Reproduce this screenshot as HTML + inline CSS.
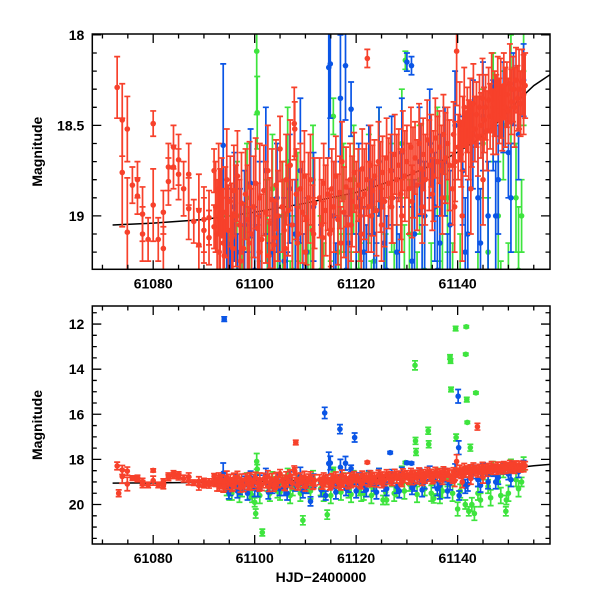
<!DOCTYPE html>
<html><head><meta charset="utf-8">
<style>
html,body{margin:0;padding:0;background:#fff;width:600px;height:600px;overflow:hidden;}
svg{display:block;}
text{font-family:"Liberation Sans",sans-serif;font-weight:bold;fill:#000;}
</style></head>
<body>
<svg id="chart" width="600" height="600" viewBox="0 0 600 600" xmlns="http://www.w3.org/2000/svg"></svg>
<script>
// ---- data ----
const redT=[61072.9,61073.9,61073.9,61074.9,61074.9,61075.9,61076.9,61076.9,61077.9,61077.9,61079,61080,61080,61081,61082,61082,61083,61083,61084,61084,61085,61085,61086,61087,61087,61088,61089,61089,61090,61090,61091,61091,61092,61092,61073.2,
61092.3,61092.6,61092.9,61093.2,61093.5,61093.8,61094.2,61094.5,61094.8,61095.2,61095.5,61095.9,61096.3,61096.6,61097.0,61097.4,61097.8,61098.2,61098.6,61099.0,61099.4,61099.8,61100.2,61100.6,61101.0,61101.4,61101.8,61102.2,61102.6,61103.0,61103.4,61103.8,61104.2,61104.6,61105.0,61105.4,61105.8,61106.2,61106.6,61107.0,61107.4,61107.8,61107.9,61108.2,61108.6,61109.0,61109.4,61109.8,61110.2,61110.6,61111.0,61111.4,61111.8,61108.1,
61112.8,61113.2,61113.6,61114.0,61114.4,61114.8,61115.2,61115.6,61116.0,61116.4,61116.8,61117.2,61117.6,61118.0,61118.4,61118.8,61119.2,61119.6,61120.0,61120.4,61120.8,61121.2,61121.6,61122.0,61122.2,61122.4,61122.8,61123.2,61123.6,61124.0,61124.4,61124.8,61125.2,61125.6,61126.0,61126.4,61126.8,61127.2,61127.6,61128.0,61128.4,61128.8,61129.2,61129.6,61130.0,61130.4,61130.8,61131.2,61131.6,61132.0,61132.4,61132.8,61133.2,61133.6,61134.0,61134.4,61134.8,61135.2,61135.6,61136.0,61136.4,61136.8,61137.2,61137.6,61138.0,61138.4,
61139.2,61139.5,61139.8,61140.1,61140.4,61140.7,61141.0,61141.3,61141.6,61141.9,61142.2,61142.5,61142.8,61143.1,61143.4,61143.7,61143.9,61144.0,61144.3,61144.6,61144.9,61145.2,61145.5,61145.8,61146.1,61146.4,61146.7,61147.0,61147.3,61147.6,61147.9,61148.2,61148.5,61148.8,61149.1,61149.4,61149.7,61150.0,61150.3,61150.6,61150.9,61151.2,61151.5,61151.8,61152.1,61152.4,61152.7,61153.0,61153.3,61139.4,61140.9,61142.6,61145.0,
61093.0,61094.0,61095.7,61097.2,61098.9,61100.9,61102.8,61104.0,61106.0,61108.4,61110.0,61111.6,61113.4,61115.0,61117.0,61119.0,61121.0,61123.0,61125.0,61127.0,61129.0,61131.0,61133.0,61135.0,61137.0,61139.0];
const redM=[18.29,18.47,18.76,18.52,19.09,18.83,18.80,18.89,18.99,19.10,19.13,18.49,18.94,19.13,18.98,19.18,18.73,18.81,18.62,18.73,18.69,18.77,18.85,18.77,18.96,19.03,18.97,19.16,19.02,19.08,19.01,19.12,18.75,19.06,19.50,
18.95,19.10,18.85,19.02,18.90,19.15,18.98,18.80,19.08,18.92,19.12,18.86,19.00,18.78,19.05,18.93,19.18,18.88,19.02,18.84,19.10,18.95,18.82,19.07,18.90,19.13,18.86,18.98,18.75,19.04,18.91,19.16,18.83,19.00,18.63,18.95,19.08,18.80,18.97,18.72,19.05,18.49,18.52,18.88,19.10,18.85,18.98,18.78,19.02,18.90,18.80,19.08,18.93,17.25,
18.90,19.05,18.82,18.97,18.88,19.10,18.85,18.95,18.78,19.02,18.87,18.70,18.98,18.84,19.05,18.80,18.92,18.76,18.95,18.83,19.00,18.74,18.88,18.80,18.13,18.95,18.72,18.86,18.78,18.97,18.70,18.84,18.76,18.92,18.68,18.82,18.75,18.90,18.66,18.80,18.72,18.88,18.64,18.78,18.70,18.85,18.62,18.76,18.68,18.83,18.60,18.74,18.66,18.80,18.58,18.72,18.64,18.78,18.57,18.70,18.62,18.75,18.55,18.68,18.60,18.72,
18.55,18.70,18.09,18.62,18.48,18.66,18.52,18.40,18.60,18.47,18.58,18.42,18.55,18.38,18.52,18.44,16.55,18.56,18.40,18.50,18.35,18.47,18.40,18.53,18.36,18.45,18.32,18.48,18.38,18.44,18.30,18.42,18.35,18.46,18.28,18.40,18.33,18.42,18.27,18.37,18.30,18.40,18.25,18.35,18.30,18.38,18.26,18.33,18.28,18.95,19.00,18.85,18.80,
19.20,19.22,19.18,19.25,19.15,19.20,19.22,19.12,19.18,19.15,19.20,19.10,19.12,19.08,19.15,19.05,19.10,19.00,19.05,18.95,19.00,18.92,18.95,18.88,18.90,18.85];
const redE=[0.17,0.2,0.3,0.18,0.3,0.1,0.1,0.1,0.15,0.15,0.12,0.07,0.2,0.12,0.12,0.12,0.13,0.13,0.12,0.12,0.14,0.14,0.15,0.17,0.17,0.12,0.2,0.2,0.18,0.18,0.15,0.15,0.12,0.12,0.15,
0.25,0.3,0.25,0.28,0.22,0.3,0.25,0.28,0.25,0.25,0.3,0.25,0.28,0.25,0.25,0.28,0.25,0.25,0.3,0.25,0.25,0.28,0.25,0.25,0.3,0.25,0.25,0.28,0.25,0.25,0.28,0.25,0.25,0.25,0.18,0.25,0.28,0.25,0.25,0.25,0.25,0.2,0.15,0.25,0.25,0.25,0.28,0.25,0.25,0.25,0.25,0.25,0.25,0.1,
0.22,0.25,0.22,0.25,0.2,0.25,0.22,0.25,0.22,0.25,0.2,0.22,0.25,0.22,0.25,0.2,0.25,0.22,0.25,0.2,0.25,0.22,0.25,0.2,0.05,0.25,0.22,0.25,0.2,0.25,0.22,0.25,0.2,0.25,0.22,0.25,0.2,0.25,0.22,0.25,0.2,0.25,0.22,0.25,0.2,0.25,0.22,0.25,0.2,0.25,0.22,0.25,0.2,0.25,0.22,0.25,0.2,0.25,0.22,0.25,0.2,0.25,0.22,0.25,0.2,0.25,
0.18,0.22,0.3,0.18,0.22,0.18,0.18,0.22,0.18,0.18,0.22,0.18,0.18,0.22,0.18,0.18,0.15,0.22,0.18,0.18,0.22,0.18,0.18,0.22,0.18,0.18,0.22,0.18,0.18,0.22,0.18,0.18,0.22,0.18,0.18,0.22,0.18,0.18,0.22,0.18,0.18,0.22,0.18,0.18,0.22,0.18,0.18,0.22,0.18,0.25,0.25,0.25,0.25,
0.2,0.2,0.2,0.2,0.2,0.2,0.2,0.2,0.2,0.2,0.2,0.2,0.2,0.2,0.2,0.2,0.2,0.2,0.2,0.2,0.2,0.2,0.2,0.2,0.2,0.2];

const blueT=[61093.8,61094.0,61094.5,61095.2,61096.0,61097.1,61098.0,61099.2,61100.0,61101.0,61102.2,61103.5,61104.4,61105.8,61106.9,61108.0,61109.0,61110.2,61111.0,61111.6,61113.8,61114.0,61114.6,61114.9,61115.6,61116.8,61116.9,61117.9,61118.5,61119.0,61119.7,61120.5,61121.5,61122.5,61123.5,61124.5,61125.5,61126.7,61127.0,61128.0,61129.0,61130.0,61130.9,61131.5,61132.5,61133.5,61134.5,61135.5,61136.5,61137.5,61138.5,61139.5,61140.1,61140.2,61140.3,61141.0,61142.0,61143.0,61144.0,61145.0,61146.0,61147.0,61148.0,61149.0,61150.0,61151.0,61152.0,61153.0,
61094.9,61096.6,61098.6,61100.6,61102.7,61104.9,61106.4,61109.5,61113.1,61116.0,61118.0,61120.0,61122.0,61124.0,61126.0,61128.5,61131.0,61133.0,61136.0,61138.0,61141.5,61144.5,61147.5,61150.5];
const blueM=[18.61,11.78,19.15,19.25,18.95,19.2,19.05,18.82,19.3,19.0,18.75,19.2,18.9,19.25,18.85,19.1,18.75,19.2,19.86,18.95,15.94,19.6,18.18,18.16,19.0,16.66,18.35,18.17,19.15,18.41,17.03,18.9,19.2,18.8,19.1,18.7,19.15,17.70,18.75,19.2,18.65,18.15,18.17,19.1,18.7,19.0,18.6,18.95,19.15,18.7,19.05,18.5,15.2,17.48,19.6,18.75,19.1,18.55,18.9,18.45,19.0,18.5,18.8,18.4,18.65,18.3,18.55,18.25,
19.45,19.4,19.5,19.35,19.45,19.3,19.5,19.4,19.35,19.45,19.3,19.4,19.35,19.45,19.3,19.4,19.25,19.35,19.3,19.4,19.2,19.15,19.0,18.9];
const blueE=[0.45,0.1,0.3,0.35,0.3,0.35,0.3,0.3,0.35,0.3,0.35,0.3,0.3,0.35,0.3,0.3,0.4,0.3,0.2,0.3,0.25,0.2,0.5,0.3,0.3,0.2,0.35,0.3,0.3,0.15,0.2,0.3,0.25,0.3,0.3,0.3,0.25,0.05,0.3,0.3,0.3,0.05,0.05,0.3,0.3,0.3,0.3,0.3,0.6,0.3,0.3,0.3,0.3,0.3,0.2,0.3,0.3,0.3,0.3,0.3,0.3,0.25,0.3,0.25,0.25,0.2,0.25,0.2,
0.3,0.3,0.3,0.3,0.3,0.3,0.3,0.3,0.3,0.3,0.3,0.3,0.3,0.3,0.3,0.3,0.3,0.3,0.3,0.3,0.3,0.3,0.3,0.3];

const greenT=[61094.5,61095.5,61096.5,61097.5,61098.5,61099.5,61100.0,61100.2,61100.4,61100.5,61101.5,61102.5,61103.5,61104.5,61105.5,61106.5,61107.5,61108.5,61109.5,61110.5,61111.5,61113.0,61114.3,61115.5,61116.5,61117.5,61118.5,61119.5,61120.5,61121.5,61122.5,61123.5,61124.5,61125.3,61126.0,61127.0,61128.0,61129.0,61129.7,61130.5,61131.6,61131.7,61131.8,61132.5,61133.5,61134.2,61134.3,61135.3,61136.0,61137.0,61138.0,61138.5,61138.6,61138.7,61139.6,61139.7,61140.5,61141.5,61141.6,61141.7,61141.8,61141.9,61142.2,61142.5,61143.6,61144.0,61145.0,61146.0,61147.0,61148.0,61149.0,61149.5,61149.6,61150.5,61151.5,61152.6,61153.0,
61095.0,61097.0,61099.0,61101.0,61103.0,61105.0,61107.0,61109.0,61111.0,61113.6,61115.0,61117.0,61119.0,61121.0,61123.0,61125.8,61127.5,61129.5,61132.0,61134.8,61136.5,61139.0,61140.0,61142.8,61143.3,61144.5,61146.5,61148.5,61150.0,61152.0];
const greenM=[19.3,19.5,19.0,19.35,18.9,19.6,19.9,20.4,18.09,18.43,21.24,19.1,18.85,19.4,19.0,18.7,19.3,18.95,20.7,19.2,18.8,19.3,20.45,18.45,19.2,18.9,19.4,18.8,19.3,19.5,18.85,19.25,18.7,19.8,19.8,18.9,19.35,18.6,18.14,19.1,13.83,17.18,17.67,18.8,19.3,16.73,17.33,19.73,18.7,19.4,18.9,13.46,13.64,14.9,12.2,17.03,19.4,20.0,13.34,12.12,15.35,16.36,20.3,17.48,15.05,19.5,18.6,19.2,18.4,19.0,18.5,20.3,19.8,18.3,18.9,19.0,18.2,
19.45,19.55,19.4,19.6,19.5,19.45,19.6,19.5,19.4,19.5,19.6,19.45,19.55,19.5,19.6,19.45,19.5,19.4,19.55,19.5,19.6,19.5,20.2,20.0,20.4,19.8,19.7,19.6,19.5,19.3];
const greenE=[0.3,0.3,0.3,0.3,0.3,0.3,0.2,0.2,0.35,0.2,0.15,0.3,0.3,0.3,0.3,0.3,0.3,0.3,0.2,0.3,0.3,0.3,0.2,0.1,0.3,0.3,0.3,0.3,0.3,0.3,0.3,0.3,0.3,0.2,0.2,0.3,0.3,0.3,0.05,0.3,0.2,0.15,0.15,0.3,0.3,0.15,0.15,0.2,0.3,0.3,0.3,0.1,0.1,0.1,0.1,0.15,0.3,0.2,0.05,0.05,0.1,0.05,0.2,0.15,0.05,0.3,0.3,0.3,0.3,0.3,0.3,0.2,0.2,0.3,0.3,0.2,0.3,
0.35,0.35,0.35,0.35,0.35,0.35,0.35,0.35,0.35,0.35,0.35,0.35,0.35,0.35,0.35,0.35,0.35,0.35,0.35,0.35,0.35,0.35,0.3,0.3,0.3,0.3,0.35,0.35,0.35,0.35];

const curveT=[61072,61080,61090,61100,61110,61120,61130,61138,61144,61148,61152,61155,61158.2];
const curveM=[19.05,19.04,19.02,18.98,18.93,18.87,18.78,18.68,18.58,18.48,18.36,18.28,18.22];

const xTicks=[61080,61100,61120,61140];
const topYTicks=[18,18.5,19];
const botYTicks=[12,14,16,18,20];

// ---- drawing ----
const NS='http://www.w3.org/2000/svg';
const svg=document.getElementById('chart');
const X0=92.3,X1=550,T0=61068,T1=61158.2;
function xs(t){return X0+(t-T0)/(T1-T0)*(X1-X0);}
function mk(tag,attrs,parent){const e=document.createElementNS(NS,tag);for(const k in attrs)e.setAttribute(k,attrs[k]);(parent||svg).appendChild(e);return e;}

const defs=mk('defs',{});
function panel(id,yTop,yBot,mTop,mBot,yTicks,minorStep,labelFmt){
  const ys=m=>yTop+(m-mTop)/(mBot-mTop)*(yBot-yTop);
  const clampY=y=>Math.max(yTop-4,Math.min(yBot+4,y));
  const g=mk('g',{});
  
  
  const cp=mk('clipPath',{id:'clip-'+id},defs);
  mk('rect',{x:X0,y:yTop,width:X1-X0,height:yBot-yTop},cp);
  const plot=mk('g',{'clip-path':'url(#clip-'+id+')'},g);
  let d='';
  curveT.forEach((t,i)=>{d+=(i?'L':'M')+xs(t).toFixed(1)+','+clampY(ys(curveM[i])).toFixed(1);});
  const cv=mk('path',{d:d,fill:'none',stroke:'#000','stroke-width':1.5},plot);
  
  
  function series(name,T,M,E,col){
    const sg=mk('g',{stroke:col,fill:col},plot);
    
    
    T.forEach((t,i)=>{
      const ya=ys(M[i]-E[i]),yb=ys(M[i]+E[i]);
      if(Math.max(ya,yb)<yTop-4||Math.min(ya,yb)>yBot+4)return;
      const x=xs(t),y=ys(M[i]),y1=clampY(ya),y2=clampY(yb);
      mk('path',{d:`M${x},${y1}V${y2}M${x-3},${y1}h6M${x-3},${y2}h6`,'stroke-width':1.7,fill:'none'},sg);
      if(y>=yTop-4&&y<=yBot+4){
        const c=mk('circle',{cx:x,cy:y,r:2.8,stroke:'none'},sg);
        
        
      }
    });
  }
  series('green-series',greenT,greenM,greenE,'#3ee43e');
  series('blue-series',blueT,blueM,blueE,'#0a55e6');
  series('red-series',redT,redM,redE,'#f7412b');
  const fr=mk('rect',{x:X0,y:yTop,width:X1-X0,height:yBot-yTop,fill:'none',stroke:'#000','stroke-width':1.5},g);
  
  
  let td='';
  for(let t=61070;t<=T1;t+=5){
    const x=xs(t),L=(t%20===0)?9:4.5;
    td+=`M${x},${yBot}v${-L}M${x},${yTop}v${L}`;
  }
  const lo=Math.min(mTop,mBot),hi=Math.max(mTop,mBot);
  for(let m=Math.ceil(lo/minorStep-1e-6)*minorStep;m<=hi+1e-9;m+=minorStep){
    const y=ys(m),maj=yTicks.some(v=>Math.abs(v-m)<1e-6),L=maj?9:4.5;
    td+=`M${X0},${y}h${L}M${X1},${y}h${-L}`;
  }
  mk('path',{d:td,stroke:'#000','stroke-width':1.3,fill:'none'},g);
  xTicks.forEach(t=>{
    const tx=mk('text',{x:xs(t),y:yBot+19,'text-anchor':'middle','font-size':14},g);
    tx.textContent=t;
    
    
  });
  yTicks.forEach(m=>{
    const tx=mk('text',{x:X0-8,y:ys(m)+5,'text-anchor':'end','font-size':14},g);
    tx.textContent=labelFmt(m);
    
    
  });
  const yc=(yTop+yBot)/2;
  const yt=mk('text',{x:0,y:0,transform:`translate(42,${yc}) rotate(-90)`,'text-anchor':'middle','font-size':14},g);
  yt.textContent='Magnitude';
  
  
}
panel('top-panel',34,269.3,17.995,19.295,topYTicks,0.1,m=>String(m));
panel('bottom-panel',306,544,11.2,21.75,botYTicks,0.5,m=>String(m));
const xt=mk('text',{x:321,y:582,'text-anchor':'middle','font-size':14});
xt.textContent='HJD\u22122400000';


</script>
</body></html>
